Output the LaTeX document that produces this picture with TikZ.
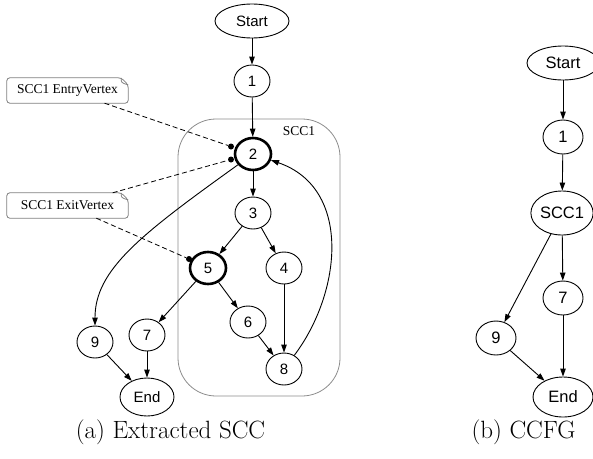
\documentclass[tikz,border=0pt]{standalone}
\usepackage{fontspec}
\newfontfamily\helv{Liberation Sans}
\newfontfamily\tms{Liberation Serif}
\usetikzlibrary{shapes.geometric,arrows.meta}
\newcommand{\vtxfont}{\helv\fontsize{15}{17}\selectfont}
\newcommand{\ccfgfont}{\helv\fontsize{16.5}{19}\selectfont}
\newcommand{\notefont}{\tms\fontsize{13.5}{15}\selectfont}
\newcommand{\capfont}{\fontsize{25}{28}\selectfont}
\begin{document}
\begin{tikzpicture}[x=1pt,y=-1pt,
  vtx/.style={ellipse,draw,line width=0.9pt,inner sep=0pt,
    minimum width=36pt,minimum height=32pt,font=\vtxfont},
  hub/.style={vtx,line width=2.6pt},
  term/.style={vtx,minimum width=54pt,minimum height=38pt},
  cvtx/.style={vtx,minimum width=40pt,minimum height=34pt,font=\ccfgfont},
  cterm/.style={cvtx,minimum width=60pt,minimum height=40pt},
  edge/.style={line width=0.9pt,-{Triangle[length=8pt,width=5.5pt]}},
  region/.style={draw=black!45,line width=0.8pt,rounded corners=38pt,
    minimum width=162pt,minimum height=277pt,inner sep=0pt},
  notebox/.style={rectangle,minimum width=121pt,minimum height=25pt,
    inner sep=0pt,font=\notefont},
  noteedge/.style={draw=black!50,line width=0.8pt},
  link/.style={line width=0.8pt,dash pattern=on 5pt off 3pt},
  dotmark/.style={circle,fill,inner sep=0pt,minimum size=6pt}]
\useasboundingbox (0,0) rectangle (593,458);

% strongly connected component frame
\node[region] (scc) at (259,257.5) {};
\node[font=\notefont] (scclabel) at (299,131) {SCC1};

% extracted graph
\node[vtx,minimum width=74pt,minimum height=34pt] (start) at (252,21) {Start};
\node[vtx] (n1) at (252,81) {1};
\node[hub] (n2) at (253,154) {2};
\node[vtx] (n3) at (253,213) {3};
\node[hub] (n5) at (208,268) {5};
\node[vtx] (n4) at (284,268) {4};
\node[vtx] (n6) at (248,322) {6};
\node[vtx] (n8) at (284,369) {8};
\node[vtx] (n7) at (147,335) {7};
\node[vtx] (n9) at (95,342) {9};
\node[term] (end) at (147,397) {End};

\draw[edge] (start) -- (n1);
\draw[edge] (n1) -- (n2);
\draw[edge] (n2) -- (n3);
\draw[edge] (n3) -- (n5);
\draw[edge] (n3) -- (n4);
\draw[edge] (n5) -- (n7);
\draw[edge] (n5) -- (n6);
\draw[edge] (n4) -- (n8);
\draw[edge] (n6) -- (n8);
\draw[edge] (n7) -- (end);
\draw[edge] (n9) -- (end);
\draw[edge] (n2) .. controls (140,235) and (95,270) .. (n9);
\draw[edge] (n8) .. controls (342,292) and (352,188) .. (n2);

% annotation notes
\node[notebox] (entry) at (67.5,90.5) {SCC1 EntryVertex};
\node[notebox] (exit) at (67.5,205.5) {SCC1 ExitVertex};
\foreach \n in {entry,exit}{
  \draw[noteedge,rounded corners=3pt]
    ([xshift=-7pt]\n.north east) -- (\n.north west) -- (\n.south west)
    -- (\n.south east) -- ([yshift=-7pt]\n.north east) -- cycle;
  \draw[noteedge] ([xshift=-7pt]\n.north east)
    .. controls ([xshift=-7pt,yshift=-5pt]\n.north east) .. ([yshift=-7pt]\n.north east);
}
\node[dotmark] (d1) at (231,146.5) {};
\node[dotmark] (d2) at (231,159.5) {};
\node[dotmark] (d3) at (189,259) {};
\draw[link] (entry) -- (d1);
\draw[link] (exit) -- (d2);
\draw[link] (exit) -- (d3);

% condensed graph
\node[cvtx,minimum width=72pt] (cstart) at (563,63) {Start};
\node[cvtx] (c1) at (563,137) {1};
\node[cvtx,minimum width=60pt,minimum height=44pt] (cscc) at (562,213) {SCC1};
\node[cvtx] (c7) at (563,298) {7};
\node[cvtx] (c9) at (496,338) {9};
\node[cterm] (cend) at (563,397) {End};

\draw[edge] (cstart) -- (c1);
\draw[edge] (c1) -- (cscc);
\draw[edge] (cscc) -- (c7);
\draw[edge] (cscc) -- (c9);
\draw[edge] (c7) -- (cend);
\draw[edge] (c9) -- (cend);

% captions
\node[font=\capfont,anchor=base] (capa) at (170.5,438) {(a) Extracted SCC};
\node[font=\capfont,anchor=base] (capb) at (523.5,438) {(b) CCFG};
\end{tikzpicture}
\end{document}
